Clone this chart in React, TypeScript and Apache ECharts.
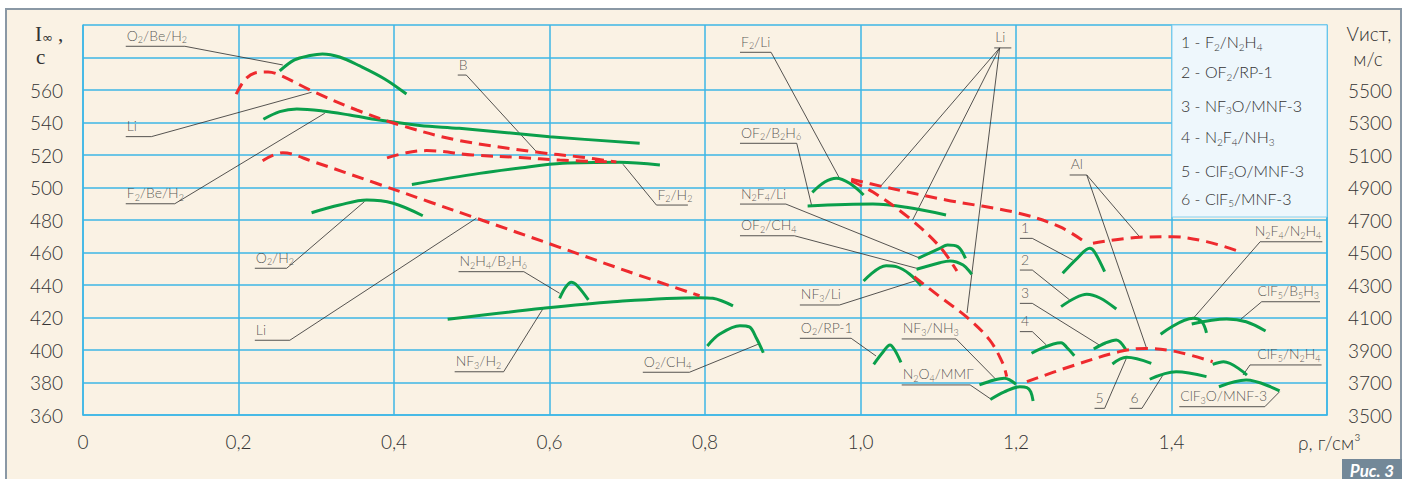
import React, { useEffect, useRef } from 'react';
import * as echarts from 'echarts';

// ---------------- data ----------------
const xMin = 0;
const xMax = 1.6;
const xStep = 0.2;
const leftMin = 360;
const leftMax = 600;
const leftStep = 20;
const leftLastLabel = 560;
const rightMin = 3500;
const rightMax = 5900;
const rightStep = 200;
const rightLastLabel = 5500;

// green curves: [ρ, I]
const gO2BeH2 = [[0.253, 571.7], [0.272, 578.5], [0.292, 581.2], [0.308, 582.2], [0.33, 580.3], [0.356, 574.8], [0.388, 566.8], [0.416, 557.5]];
const gF2BeH2 = [[0.232, 542.0], [0.253, 546.7], [0.275, 548.3], [0.308, 547.1], [0.343, 544.6], [0.381, 541.5], [0.433, 538.2], [0.484, 536.4], [0.6, 531.3], [0.716, 527.2]];
const gF2H2 = [[0.423, 501.9], [0.51, 508.7], [0.562, 512.0], [0.617, 514.9], [0.69, 515.5], [0.742, 513.9]];
const gO2H2 = [[0.294, 484.5], [0.33, 489.2], [0.365, 492.3], [0.399, 490.3], [0.437, 482.6]];
const gNF3H2 = [[0.469, 418.9], [0.592, 425.7], [0.682, 429.7], [0.793, 432.2], [0.81, 431.8], [0.836, 427.1]];
const gN2H4B2H6 = [[0.613, 431.8], [0.621, 438.8], [0.628, 441.7], [0.636, 439.4], [0.65, 430.8]];
const gO2CH4 = [[0.803, 402.5], [0.819, 409.8], [0.845, 415.0], [0.857, 414.2], [0.866, 407.4], [0.875, 398.3]];
const gF2Li = [[0.938, 497.0], [0.954, 503.4], [0.969, 505.7], [0.986, 502.6], [1.004, 495.4]];
const gOF2B2H6 = [[0.932, 488.6], [1.016, 489.8], [1.059, 487.8], [1.11, 483.1]];
const gN2F4Li = [[1.074, 456.4], [1.102, 462.6], [1.112, 464.6], [1.125, 463.6], [1.135, 456.4]];
const gOF2CH4 = [[1.072, 449.7], [1.102, 453.7], [1.115, 454.8], [1.132, 452.3], [1.143, 446.6]];
const gNF3Li = [[1.004, 442.5], [1.033, 451.9], [1.046, 451.3], [1.063, 446.8], [1.078, 439.6]];
const gO2RP1 = [[1.017, 391.2], [1.029, 398.8], [1.038, 403.1], [1.044, 400.0], [1.052, 392.4]];
const gNF3NH3 = [[1.153, 378.5], [1.172, 381.5], [1.185, 382.6], [1.2, 378.9]];
const gN2O4MMG = [[1.167, 369.5], [1.185, 374.2], [1.205, 377.4], [1.214, 376.9], [1.219, 374.2], [1.222, 368.6]];
const g1 = [[1.26, 447.2], [1.279, 456.6], [1.295, 462.6], [1.301, 460.3], [1.314, 448.2]];
const g2 = [[1.258, 426.7], [1.276, 432.0], [1.291, 434.3], [1.308, 432.0], [1.329, 425.2]];
const g3 = [[1.3, 400.6], [1.315, 404.3], [1.329, 406.2], [1.341, 400.4]];
const g4 = [[1.22, 398.0], [1.258, 404.5], [1.266, 401.2], [1.275, 396.5]];
const g5 = [[1.324, 391.4], [1.342, 395.5], [1.374, 391.8]];
const g6 = [[1.372, 382.0], [1.406, 386.6], [1.445, 383.6]];
const gN2F4N2H4 = [[1.386, 409.7], [1.428, 419.5], [1.439, 417.4], [1.445, 410.6]];
const gClF5B5H3 = [[1.426, 416.0], [1.471, 419.1], [1.496, 417.4], [1.521, 411.7]];
const gClF5N2H4 = [[1.453, 391.2], [1.467, 392.8], [1.497, 384.6]];
const gClF3OMNF3 = [[1.461, 377.4], [1.496, 381.5], [1.539, 374.8]];

const greenCurves = [gO2BeH2, gF2BeH2, gF2H2, gO2H2, gNF3H2, gN2H4B2H6, gO2CH4, gF2Li, gOF2B2H6, gN2F4Li, gOF2CH4, gNF3Li, gO2RP1, gNF3NH3, gN2O4MMG, g1, g2, g3, g4, g5, g6, gN2F4N2H4, gClF5B5H3, gClF5N2H4, gClF3OMNF3];

// red dashed curves (additive series)
const dLiUpper = [[0.197, 557.5], [0.208, 566.2], [0.221, 570.5], [0.238, 571.1], [0.253, 569.2], [0.296, 559.1], [0.352, 547.7], [0.407, 538.5], [0.481, 529.2], [0.583, 521.8], [0.639, 518.8], [0.686, 515.7]];
const dB = [[0.391, 518.2], [0.416, 521.4], [0.442, 522.7], [0.501, 520.0], [0.562, 518.5], [0.613, 516.9], [0.681, 515.7]];
const dLiLower = [[0.231, 516.5], [0.257, 521.4], [0.296, 515.9], [0.377, 502.6], [0.446, 491.1], [0.506, 481.1], [0.613, 463.2], [0.703, 448.0], [0.793, 433.4]];
const dLiF2 = [[0.988, 505.1], [1.029, 500.5], [1.11, 492.3], [1.201, 484.5], [1.256, 475.9], [1.291, 465.7]];
const dLiSteep1 = [[0.988, 504.0], [1.016, 497.2], [1.063, 481.1], [1.102, 463.6], [1.124, 448.6]];
const dLiSteep2 = [[1.069, 445.1], [1.102, 432.8], [1.136, 420.5], [1.166, 406.2], [1.183, 391.8], [1.188, 383.6]];
const dAlUpper = [[1.299, 465.7], [1.359, 469.4], [1.401, 469.7], [1.445, 466.7], [1.488, 460.5]];
const dAlLower = [[1.214, 380.5], [1.269, 389.7], [1.333, 399.0], [1.367, 401.0], [1.406, 399.0], [1.453, 392.8]];

const redCurves = [dLiUpper, dB, dLiLower, dLiF2, dLiSteep1, dLiSteep2, dAlUpper, dAlLower];

// annotation labels: text (with _n = subscript), underline from x0..x1 at y, leader start x, leader targets
const annotations = [
  { text: 'O_2/Be/H_2', x0: 0.055, x1: 0.131, y: 586.9, from: 0.131, to: [[0.257, 575.4]], side: 'l' },
  { text: 'Li', x0: 0.055, x1: 0.088, y: 531.3, from: 0.088, to: [[0.294, 558.6]], side: 'l' },
  { text: 'F_2/Be/H_2', x0: 0.055, x1: 0.118, y: 490.0, from: 0.118, to: [[0.311, 545.7]], side: 'l' },
  { text: 'B', x0: 0.482, x1: 0.493, y: 569.2, from: 0.493, to: [[0.585, 521.1]], side: 'l' },
  { text: 'F_2/H_2', x0: 0.7375, x1: 0.778, y: 489.2, from: 0.7375, to: [[0.6945, 514.3]], side: 'l' },
  { text: 'O_2/H_2', x0: 0.221, x1: 0.262, y: 450.3, from: 0.262, to: [[0.362, 491.3]], side: 'l' },
  { text: 'Li', x0: 0.221, x1: 0.266, y: 406.0, from: 0.266, to: [[0.506, 481.1]], side: 'l' },
  { text: 'N_2H_4/B_2H_6', x0: 0.483, x1: 0.567, y: 448.2, from: 0.567, to: [[0.613, 434.9]], side: 'l' },
  { text: 'NF_3/H_2', x0: 0.478, x1: 0.541, y: 386.6, from: 0.541, to: [[0.592, 425.7]], side: 'l' },
  { text: 'O_2/CH_4', x0: 0.72, x1: 0.78, y: 386.3, from: 0.78, to: [[0.868, 403.5]], side: 'l' },
  { text: 'F_2/Li', x0: 0.845, x1: 0.885, y: 583.2, from: 0.885, to: [[0.973, 505.7]], side: 'l' },
  { text: 'OF_2/B_2H_6', x0: 0.845, x1: 0.918, y: 527.2, from: 0.918, to: [[0.937, 489.2]], side: 'l' },
  { text: 'N_2F_4/Li', x0: 0.845, x1: 0.904, y: 489.8, from: 0.904, to: [[1.074, 457.0]], side: 'l' },
  { text: 'OF_2/CH_4', x0: 0.845, x1: 0.915, y: 470.3, from: 0.915, to: [[1.072, 450.3]], side: 'l' },
  { text: 'NF_3/Li', x0: 0.922, x1: 0.973, y: 427.7, from: 0.973, to: [[1.07, 442.5]], side: 'l' },
  { text: 'O_2/RP-1', x0: 0.922, x1: 0.988, y: 407.2, from: 0.988, to: [[1.02, 396.3]], side: 'l' },
  { text: 'NF_3/NH_3', x0: 1.053, x1: 1.123, y: 406.8, from: 1.123, to: [[1.175, 381.5]], side: 'l' },
  { text: 'N_2O_4/MMГ', x0: 1.053, x1: 1.141, y: 378.5, from: 1.141, to: [[1.168, 369.7]], side: 'l' },
  { text: 'Li', x0: 1.172, x1: 1.194, y: 585.9, from: 1.179, to: [[1.025, 500.3], [1.067, 480.0], [1.137, 422.8]], side: 'l' },
  { text: 'Al', x0: 1.269, x1: 1.291, y: 507.7, from: 1.291, to: [[1.358, 470.2], [1.368, 401.0]], side: 'l' },
  { text: '1', x0: 1.205, x1: 1.221, y: 468.7, from: 1.221, to: [[1.273, 455.4]], side: 'l' },
  { text: '2', x0: 1.205, x1: 1.221, y: 449.2, from: 1.221, to: [[1.269, 430.8]], side: 'l' },
  { text: '3', x0: 1.205, x1: 1.221, y: 428.7, from: 1.221, to: [[1.307, 403.1]], side: 'l' },
  { text: '4', x0: 1.205, x1: 1.221, y: 411.3, from: 1.221, to: [[1.239, 403.1]], side: 'l' },
  { text: '5', x0: 1.301, x1: 1.314, y: 364.1, from: 1.314, to: [[1.342, 394.9]], side: 'l' },
  { text: '6', x0: 1.346, x1: 1.362, y: 364.1, from: 1.362, to: [[1.389, 384.6]], side: 'l' },
  { text: 'N_2F_4/N_2H_4', x0: 1.514, x1: 1.594, y: 466.6, from: 1.514, to: [[1.428, 419.5]], side: 'r' },
  { text: 'ClF_5/B_5H_3', x0: 1.516, x1: 1.591, y: 429.7, from: 1.516, to: [[1.488, 418.5]], side: 'r' },
  { text: 'ClF_5/N_2H_4', x0: 1.501, x1: 1.593, y: 390.8, from: 1.501, to: [[1.492, 384.6]], side: 'r' },
  { text: 'ClF_3O/MNF-3', x0: 1.41, x1: 1.52, y: 365.1, from: 1.52, to: [[1.539, 374.3]], side: 'l' },
];

const legendItems = ['1 - F_2/N_2H_4', '2 - OF_2/RP-1', '3 - NF_3O/MNF-3', '4 - N_2F_4/NH_3', '5 - ClF_5O/MNF-3', '6 - ClF_5/MNF-3'];

// ---------------- styles ----------------
const GREEN = '#0a9f4b';
const RED = '#ee2a2e';
const GRID = '#3cb6e6';
const TEXT = '#333333';
const FONT = 'Lato, "Noto Sans", sans-serif';
const WEIGHT = 300;

const toRich = (s: string) => s.replace(/_(\d)/g, '{s|$1}');

const subStyle = { fontSize: 9, lineHeight: 9, padding: [9, 0, 0, 0], color: TEXT, fill: TEXT, fontFamily: FONT, fontWeight: WEIGHT };

function buildOption() {
  const lineCoords: any[] = [];
  annotations.forEach((a) => {
    lineCoords.push({ coords: [[a.x0, a.y], [a.x1, a.y]] });
    a.to.forEach((t) => lineCoords.push({ coords: [[a.from, a.y], t] }));
  });

  const labelData = annotations.map((a) => ({
    value: [a.side === 'r' ? a.x1 : a.x0, a.y],
    label: {
      formatter: toRich(a.text),
      align: a.side === 'r' ? 'right' : 'left',
      offset: [a.side === 'r' ? -1 : 1, 0],
    },
  }));

  const series: any[] = [
    {
      type: 'lines',
      coordinateSystem: 'cartesian2d',
      polyline: true,
      silent: true,
      lineStyle: { color: '#2b2b2b', width: 0.8, opacity: 1 },
      data: lineCoords,
      z: 3,
    },
  ];

  greenCurves.forEach((c) =>
    series.push({
      type: 'line',
      data: c,
      smooth: 0.35,
      showSymbol: false,
      symbol: 'none',
      silent: true,
      lineStyle: { color: GREEN, width: 3 },
      z: 4,
    })
  );
  redCurves.forEach((c) =>
    series.push({
      type: 'line',
      data: c,
      smooth: 0.35,
      showSymbol: false,
      symbol: 'none',
      silent: true,
      lineStyle: { color: RED, width: 3, type: [12, 7] },
      z: 5,
    })
  );
  series.push({
    type: 'scatter',
    data: labelData,
    symbol: 'circle',
    symbolSize: 1,
    itemStyle: { color: 'rgba(0,0,0,0)' },
    silent: true,
    z: 6,
    label: {
      show: true,
      position: 'top',
      distance: 3,
      color: TEXT,
      fontSize: 14,
      fontWeight: WEIGHT,
      lineHeight: 15,
      fontFamily: FONT,
      rich: { s: subStyle },
    },
  });

  const legendY = [41.7, 71.7, 105, 136.7, 170, 198.3];

  const graphic: any[] = [
    {
      type: 'rect',
      z: 10,
      shape: { x: 1172, y: 25, width: 155, height: 192 },
      style: { fill: '#eef7fc', stroke: '#86d0f0', lineWidth: 1 },
    },
    ...legendItems.map((t, i) => ({
      type: 'text',
      z: 11,
      x: 1181,
      y: legendY[i],
      style: {
        text: toRich(t),
        fill: TEXT,
        fontSize: 16,
        fontWeight: WEIGHT,
        lineHeight: 17,
        fontFamily: FONT,
        textAlign: 'left',
        textVerticalAlign: 'middle',
        rich: { s: { fontSize: 10, lineHeight: 10, padding: [10, 0, 0, 0], fill: TEXT, fontFamily: FONT, fontWeight: WEIGHT } },
      },
    })),
    {
      type: 'text',
      z: 11,
      x: 35,
      y: 34,
      style: {
        text: '{i|I}{o|∞}{c| ,}',
        textAlign: 'left',
        textVerticalAlign: 'middle',
        fill: TEXT,
        rich: {
          i: { fontFamily: '"Liberation Serif", serif', fontSize: 21, lineHeight: 17, fill: TEXT },
          o: { fontFamily: '"DejaVu Sans", sans-serif', fontSize: 13, lineHeight: 12, padding: [6, 0, 0, 0], fill: TEXT },
          c: { fontFamily: '"Liberation Serif", serif', fontSize: 21, lineHeight: 17, fill: TEXT },
        },
      },
    },
    {
      type: 'text',
      z: 11,
      x: 36,
      y: 57,
      style: { text: 'с', fill: TEXT, fontFamily: '"Liberation Serif", serif', fontSize: 21, lineHeight: 14, textAlign: 'left', textVerticalAlign: 'middle' },
    },
    {
      type: 'text',
      z: 11,
      x: 1369,
      y: 33,
      style: { text: 'Vист,', fill: TEXT, fontFamily: FONT, fontWeight: WEIGHT, fontSize: 19, textAlign: 'center', textVerticalAlign: 'middle' },
    },
    {
      type: 'text',
      z: 11,
      x: 1368,
      y: 58,
      style: { text: 'м/с', fill: TEXT, fontFamily: FONT, fontWeight: WEIGHT, fontSize: 19, textAlign: 'center', textVerticalAlign: 'middle' },
    },
    {
      type: 'text',
      z: 11,
      x: 1298,
      y: 442,
      style: { text: 'ρ, г/см³', fill: TEXT, fontFamily: FONT, fontWeight: WEIGHT, fontSize: 19, textAlign: 'left', textVerticalAlign: 'middle' },
    },
    {
      type: 'rect',
      z: 11,
      shape: { x: 1342, y: 459, width: 60, height: 21 },
      style: { fill: '#738898' },
    },
    {
      type: 'text',
      z: 12,
      x: 1372,
      y: 470,
      style: { text: 'Рис. 3', fill: '#ffffff', fontFamily: FONT, fontSize: 17, fontStyle: 'italic', fontWeight: 'bold', textAlign: 'center', textVerticalAlign: 'middle' },
    },
  ];

  const fmtX = (v: number) => {
    if (v > 1.5) return '';
    if (v === 0) return '0';
    return v.toFixed(1).replace('.', ',');
  };

  const axisFont = { fontSize: 19, color: TEXT, fontFamily: FONT, fontWeight: WEIGHT };

  return {
    animation: false,
    backgroundColor: 'transparent',
    grid: { left: 83, top: 25, width: 1244, height: 390, containLabel: false },
    xAxis: {
      type: 'value',
      min: xMin,
      max: xMax,
      interval: xStep,
      axisLine: { show: true, lineStyle: { color: GRID, width: 1.5 } },
      axisTick: { show: false },
      splitLine: { show: true, lineStyle: { color: GRID, width: 1.5 } },
      axisLabel: { formatter: fmtX, ...axisFont, margin: 17 },
    },
    yAxis: [
      {
        type: 'value',
        min: leftMin,
        max: leftMax,
        interval: leftStep,
        axisLine: { show: true, lineStyle: { color: GRID, width: 1.5 } },
        axisTick: { show: false },
        splitLine: { show: true, lineStyle: { color: GRID, width: 1.5 } },
        axisLabel: {
          formatter: (v: number) => (v <= leftLastLabel ? String(v) : ''),
          ...axisFont,
          margin: 20,
        },
      },
      {
        type: 'value',
        position: 'right',
        min: rightMin,
        max: rightMax,
        interval: rightStep,
        axisLine: { show: true, lineStyle: { color: GRID, width: 1.5 } },
        axisTick: { show: false },
        splitLine: { show: false },
        axisLabel: {
          formatter: (v: number) => (v <= rightLastLabel ? String(v) : ''),
          ...axisFont,
          margin: 21,
        },
      },
    ],
    series,
    graphic,
  };
}

export default function App() {
  const ref = useRef<HTMLDivElement>(null);
  useEffect(() => {
    if (!ref.current) return;
    const chart = echarts.init(ref.current, undefined, { renderer: 'svg' });
    chart.setOption(buildOption() as any);
    return () => chart.dispose();
  }, []);
  return (
    <div style={{ position: 'fixed', left: 0, top: 0, width: 1407, height: 479, background: '#ffffff', overflow: 'hidden' }}>
      <div
        style={{
          position: 'absolute',
          left: 5,
          top: 8,
          width: 1397,
          height: 480,
          boxSizing: 'border-box',
          background: '#faf2e4',
          borderLeft: '2px solid #8a98a5',
          borderTop: '2px solid #8a98a5',
          borderRight: '2px solid #8a98a5',
        }}
      />
      <div ref={ref} style={{ position: 'absolute', left: 0, top: 0, width: 1407, height: 479 }} />
    </div>
  );
}
